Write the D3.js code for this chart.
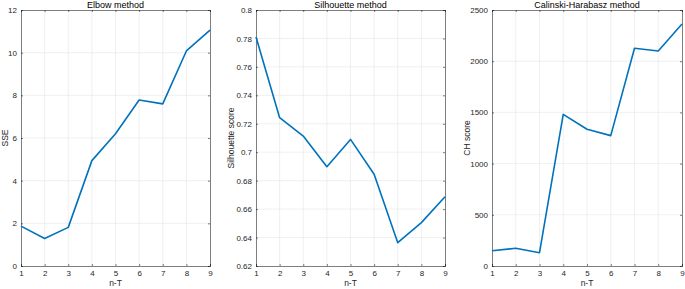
<!DOCTYPE html>
<html>
<head>
<meta charset="utf-8">
<script src="https://cdn.jsdelivr.net/npm/d3@7"></script>
<style>
  body { margin: 0; background: #fff; }
  svg { display: block; font-family: "Liberation Sans", Arial, sans-serif; }
  .tick text { fill: #262626; font-size: 8px; }
</style>
</head>
<body>
<div id="vizArea"></div>
<script>
// n-T values (x axis)
const nT = [1, 2, 3, 4, 5, 6, 7, 8, 9]

// scores
const sse = [1.87, 1.29, 1.81, 4.94, 6.2, 7.78, 7.6, 10.08, 11.06]
const silhouette = [0.781, 0.7243, 0.7114, 0.6898, 0.709, 0.6845, 0.6364, 0.6505, 0.6687]
const chScore = [149, 173, 130, 1481, 1335, 1273, 2126, 2100, 2363]

// y ticks
const sseTicks = [0, 2, 4, 6, 8, 10, 12]
const silTicks = [0.62, 0.64, 0.66, 0.68, 0.7, 0.72, 0.74, 0.76, 0.78, 0.8]
const chTicks = [0, 500, 1000, 1500, 2000, 2500]

const panels = [
    {title: "Elbow method", ylabel: "SSE", values: sse, domain: [0, 12], ticks: sseTicks, left: 21, right: 210, ylx: 8, fmt: d3.format("d")},
    {title: "Silhouette method", ylabel: "Silhouette score", values: silhouette, domain: [0.62, 0.8], ticks: silTicks, left: 256, right: 445, ylx: 234, fmt: d => +d.toFixed(2) + ""},
    {title: "Calinski-Harabasz method", ylabel: "CH score", values: chScore, domain: [0, 2500], ticks: chTicks, left: 492, right: 682, ylx: 470, fmt: d3.format("d")}
]

const W = 685, H = 289, plotTop = 10, plotBottom = 266

const svg = d3.select('#vizArea')
    .append('svg')
    .attr("width", W)
    .attr("height", H)

panels.forEach(p => {
    const x = d3.scaleLinear().domain([1, 9]).range([p.left, p.right])
    const y = d3.scaleLinear().domain(p.domain).range([plotBottom, plotTop])
    const g = svg.append("g")

    // grid
    g.append("g").selectAll("line").data(nT.slice(1, -1)).join("line")
        .attr("x1", d => x(d)).attr("x2", d => x(d))
        .attr("y1", plotTop).attr("y2", plotBottom)
        .attr("stroke", "#e6e6e6").attr("stroke-width", 0.6)
    g.append("g").selectAll("line").data(p.ticks.slice(1, -1)).join("line")
        .attr("x1", p.left).attr("x2", p.right)
        .attr("y1", d => y(d)).attr("y2", d => y(d))
        .attr("stroke", "#e6e6e6").attr("stroke-width", 0.6)

    // axes (MATLAB style, ticks inside)
    g.append("g")
        .attr("transform", "translate(0," + plotBottom + ")")
        .call(d3.axisBottom(x).tickValues(nT).tickSize(-2).tickPadding(4).tickFormat(d3.format("d")))
    g.append("g")
        .attr("transform", "translate(" + p.left + ",0)")
        .call(d3.axisLeft(y).tickValues(p.ticks).tickSize(-2).tickPadding(4).tickFormat(p.fmt))
    g.append("g")
        .attr("transform", "translate(0," + plotTop + ")")
        .call(d3.axisTop(x).tickValues(nT).tickSize(-2).tickFormat(""))
    g.append("g")
        .attr("transform", "translate(" + p.right + ",0)")
        .call(d3.axisRight(y).tickValues(p.ticks).tickSize(-2).tickFormat(""))
    g.selectAll(".domain, .tick line").attr("stroke", "#262626").attr("stroke-width", 0.6)

    // line
    g.append("path")
        .datum(p.values)
        .attr("fill", "none")
        .attr("stroke", "#0072BD")
        .attr("stroke-width", 1.6)
        .attr("stroke-linejoin", "round")
        .attr("d", d3.line().x((d, i) => x(nT[i])).y(d => y(d)))

    // labels
    g.append("text")
        .attr("x", (p.left + p.right) / 2).attr("y", 8)
        .attr("text-anchor", "middle")
        .attr("font-size", 9).attr("fill", "#000")
        .text(p.title)
    g.append("text")
        .attr("x", (p.left + p.right) / 2).attr("y", 286)
        .attr("text-anchor", "middle")
        .attr("font-size", 8.5).attr("fill", "#262626")
        .text("n-T")
    g.append("text")
        .attr("transform", "translate(" + p.ylx + "," + (plotTop + plotBottom) / 2 + ") rotate(-90)")
        .attr("text-anchor", "middle")
        .attr("font-size", 8.5).attr("fill", "#262626")
        .text(p.ylabel)
})
</script>
</body>
</html>
